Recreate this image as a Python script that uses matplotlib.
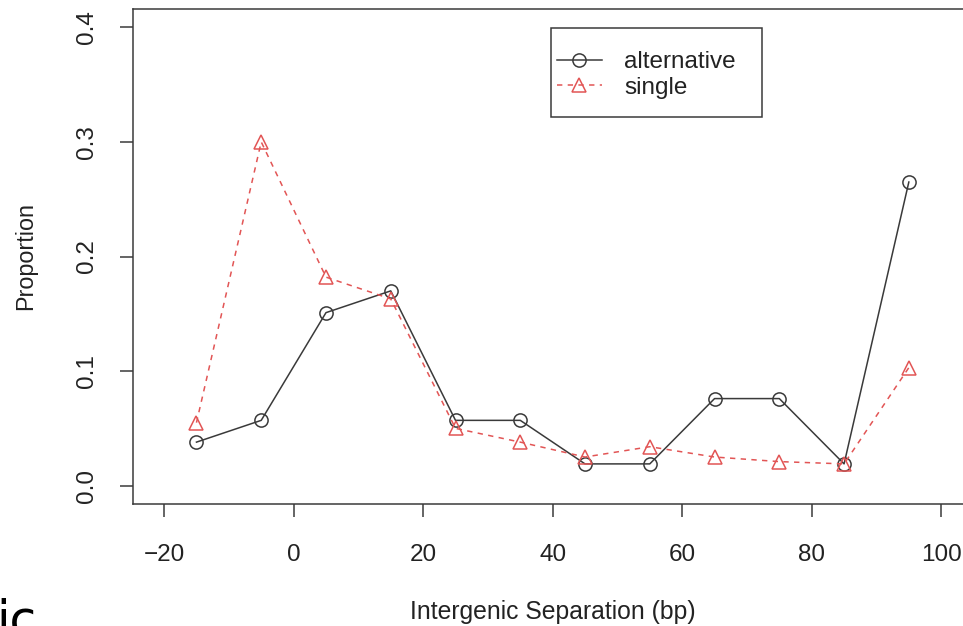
import matplotlib
matplotlib.use("Agg")
import matplotlib.pyplot as plt
from matplotlib.patches import Rectangle

x_mid = [-15, -5, 5, 15, 25, 35, 45, 55, 65, 75, 85, 95]
alternative = [0.038, 0.057, 0.151, 0.170, 0.057, 0.057, 0.019, 0.019, 0.076, 0.076, 0.019, 0.265]
single = [0.055, 0.300, 0.182, 0.163, 0.050, 0.038, 0.025, 0.034, 0.025, 0.021, 0.019, 0.103]
x_ticks = [-20, 0, 20, 40, 60, 80, 100]
y_ticks = [0.0, 0.1, 0.2, 0.3, 0.4]
y_ticklabels = ["0.0", "0.1", "0.2", "0.3", "0.4"]

plt.rcParams['font.family'] = ['Liberation Sans', 'DejaVu Sans']

W, H = 963, 626
AX_L, AX_R, AX_T, AX_B = 133, 972.3, 9, 504
fig = plt.figure(figsize=(W / 100, H / 100), dpi=100)
ax = fig.add_axes([AX_L / W, (H - AX_B) / H, (AX_R - AX_L) / W, (AX_B - AX_T) / H])

def axfrac(px, py):
    return ((px - AX_L) / (AX_R - AX_L), 1 - (py - AX_T) / (AX_B - AX_T))

BLACK = '#3a3a3a'
RED = '#e25555'
FS = 17.5

ax.plot(x_mid, alternative, color=BLACK, lw=1.1, marker='o', ms=9.5,
        mfc='none', mec=BLACK, mew=1.1, label='alternative')
ax.plot(x_mid, single, color=RED, lw=1.1, ls=(0, (3.5, 3.5)), marker='^', ms=10,
        mfc='none', mec=RED, mew=1.1, label='single')

ax.set_xlim(-24.8, 104.8)
ax.set_ylim(-0.016, 0.416)
ax.set_xticks(x_ticks)
ax.set_xticklabels([str(v).replace('-', '\u2212') for v in x_ticks])
ax.set_yticks(y_ticks)
ax.set_yticklabels(y_ticklabels, rotation=90, va='center')

for s in ax.spines.values():
    s.set_color(BLACK)
    s.set_linewidth(1.1)

ax.tick_params(axis='both', direction='out', length=9.5, width=1.1, color=BLACK,
               labelsize=FS, labelcolor='#222222')
ax.tick_params(axis='x', pad=19)
ax.tick_params(axis='y', pad=15.5)

ax.set_xlabel('Intergenic Separation (bp)', fontsize=17.8, color='#222222', labelpad=25)
ax.set_ylabel('Proportion', fontsize=16.8, color='#222222', labelpad=28)

# legend frame
fx0, fy1 = axfrac(551, 28)
fx1, fy0 = axfrac(762, 117)
ax.add_patch(Rectangle((fx0, fy0), fx1 - fx0, fy1 - fy0, transform=ax.transAxes,
                       fill=True, facecolor='white', edgecolor=BLACK, lw=1.1, zorder=5))
cx, cy = axfrac(557, 75)
leg = ax.legend(loc='center left', bbox_to_anchor=(cx, cy), bbox_transform=ax.transAxes,
                fontsize=FS, frameon=False, handlelength=1.84, borderpad=0,
                labelspacing=0.13, handletextpad=0.92, borderaxespad=0)
leg.set_zorder(6)
for t in leg.get_texts():
    t.set_color('#222222')

fig.text(-4 / W, -9 / H, 'ic', fontsize=35, family='DejaVu Sans', color='black',
         ha='left', va='baseline')

fig.savefig('out.png', dpi=100)
